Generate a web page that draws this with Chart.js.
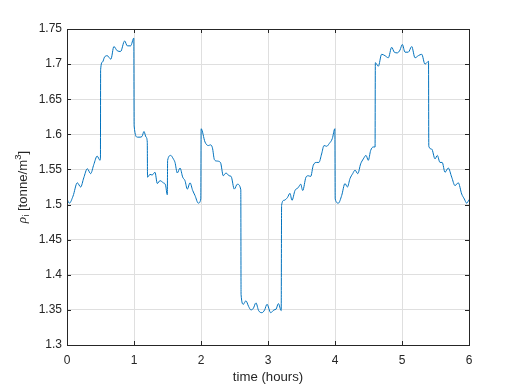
<!DOCTYPE html>
<html>
<head>
<meta charset="utf-8">
<script src="https://cdn.jsdelivr.net/npm/chart.js@4"></script>
<style>
  html, body { margin: 0; padding: 0; background: #fff; }
</style>
</head>
<body>
<canvas id="densityChart" width="518" height="388"></canvas>
<script>
// time (hours) and density readings, one row per segment
const timeHours = [
    0, 0.035, 0.09, 0.154, 0.204, 0.25, 0.303, 0.353, 0.40, 0.45, 0.493, 0.499,
    0.502, 0.53, 0.56, 0.60, 0.655, 0.70, 0.75, 0.80, 0.86, 0.90, 0.95, 0.997,
    1.002, 1.05, 1.09, 1.12, 1.149, 1.18, 1.198,
    1.202, 1.239, 1.27, 1.313, 1.348, 1.388, 1.437, 1.47, 1.497,
    1.502, 1.548, 1.587, 1.612, 1.646, 1.687, 1.727, 1.761, 1.796, 1.836, 1.876, 1.91, 1.96, 1.997,
    2.002, 2.06, 2.11, 2.14, 2.17, 2.20, 2.234, 2.29, 2.333, 2.373, 2.42, 2.45, 2.497, 2.542, 2.594,
    2.598, 2.632, 2.67, 2.71, 2.745, 2.78, 2.82, 2.86, 2.91, 2.95, 2.985, 3.04, 3.09, 3.12, 3.155, 3.197,
    3.203, 3.239, 3.29, 3.328, 3.358, 3.403, 3.45, 3.488, 3.518, 3.567, 3.60, 3.637, 3.676, 3.727, 3.76, 3.80, 3.836, 3.876, 3.915, 3.96, 3.998,
    4.003, 4.05, 4.10, 4.149, 4.185, 4.224, 4.264, 4.299, 4.34, 4.383, 4.423, 4.463, 4.497, 4.532, 4.572, 4.598,
    4.602, 4.647, 4.696, 4.746, 4.796, 4.846, 4.885, 4.93, 4.97, 5.005, 5.045, 5.094, 5.145, 5.194, 5.244, 5.294, 5.343, 5.396,
    5.400, 5.443, 5.493, 5.527, 5.567, 5.60, 5.642, 5.69, 5.742, 5.791, 5.84, 5.891, 5.93, 5.965, 6.0
];
const density = [
    1.508, 1.502, 1.512, 1.531, 1.525, 1.538, 1.551, 1.544, 1.557, 1.569, 1.563, 1.566,
    1.692, 1.703, 1.710, 1.712, 1.707, 1.725, 1.719, 1.718, 1.733, 1.726, 1.726, 1.737,
    1.612, 1.596, 1.596, 1.597, 1.604, 1.596, 1.589,
    1.539, 1.543, 1.542, 1.546, 1.530, 1.534, 1.531, 1.528, 1.514,
    1.563, 1.570, 1.565, 1.560, 1.545, 1.552, 1.539, 1.534, 1.522, 1.531, 1.520, 1.513, 1.502, 1.508,
    1.608, 1.589, 1.584, 1.585, 1.581, 1.564, 1.562, 1.560, 1.541, 1.545, 1.541, 1.540, 1.522, 1.529, 1.521,
    1.372, 1.358, 1.363, 1.355, 1.350, 1.352, 1.360, 1.349, 1.346, 1.350, 1.358, 1.346, 1.350, 1.351, 1.359, 1.349,
    1.499, 1.506, 1.510, 1.516, 1.506, 1.520, 1.524, 1.529, 1.520, 1.539, 1.541, 1.540, 1.556, 1.560, 1.560, 1.572, 1.584, 1.583, 1.587, 1.594, 1.608,
    1.508, 1.502, 1.513, 1.530, 1.525, 1.537, 1.544, 1.549, 1.544, 1.558, 1.565, 1.570, 1.563, 1.577, 1.582, 1.582,
    1.702, 1.697, 1.714, 1.712, 1.709, 1.724, 1.717, 1.716, 1.720, 1.728, 1.717, 1.717, 1.725, 1.709, 1.712, 1.714, 1.700, 1.704,
    1.583, 1.579, 1.565, 1.570, 1.560, 1.560, 1.546, 1.552, 1.539, 1.527, 1.531, 1.515, 1.508, 1.502, 1.507
];
const xTicks = [0, 1, 2, 3, 4, 5, 6];
const yTicks = [1.3, 1.35, 1.4, 1.45, 1.5, 1.55, 1.6, 1.65, 1.7, 1.75];
const xTitle = 'time (hours)';

const axisColor = '#262626';
const gridColor = '#dfdfdf';
const tickFont = { family: '"Liberation Sans", Arial, sans-serif', size: 12 };

// box, inward ticks and axis titles (matlab look)
const axesChrome = {
    id: 'axesChrome',
    afterDraw(chart) {
        const { ctx, chartArea: a, scales: { x, y } } = chart;
        const tl = 4;
        ctx.save();
        ctx.strokeStyle = axisColor;
        ctx.lineWidth = 1;
        ctx.beginPath();
        xTicks.forEach(v => {
            const px = Math.round(x.getPixelForValue(v)) + 0.5;
            ctx.moveTo(px, a.bottom); ctx.lineTo(px, a.bottom - tl);
            ctx.moveTo(px, a.top); ctx.lineTo(px, a.top + tl);
        });
        yTicks.forEach(v => {
            const py = Math.round(y.getPixelForValue(v)) + 0.5;
            ctx.moveTo(a.left, py); ctx.lineTo(a.left + tl, py);
            ctx.moveTo(a.right, py); ctx.lineTo(a.right - tl, py);
        });
        ctx.stroke();
        ctx.strokeRect(Math.round(a.left) + 0.5, Math.round(a.top) + 0.5,
            Math.round(a.right - a.left), Math.round(a.bottom - a.top));

        ctx.fillStyle = axisColor;
        ctx.font = '13.2px "Liberation Sans", Arial, sans-serif';
        ctx.textAlign = 'center';
        ctx.textBaseline = 'middle';
        ctx.fillText(xTitle, (a.left + a.right) / 2, 377);

        // y title: rho_i [tonne/m^3], rotated
        const parts = [
            { t: 'ρ', f: 'italic 13.2px "Liberation Serif", serif', dy: 0 },
            { t: 'i', f: '9.5px "Liberation Sans", Arial, sans-serif', dy: 3 },
            { t: ' [tonne/m', f: '13.2px "Liberation Sans", Arial, sans-serif', dy: 0 },
            { t: '3', f: '9.5px "Liberation Sans", Arial, sans-serif', dy: -5 },
            { t: ']', f: '13.2px "Liberation Sans", Arial, sans-serif', dy: 0 }
        ];
        let total = 0;
        parts.forEach(p => { ctx.font = p.f; p.w = ctx.measureText(p.t).width; total += p.w; });
        ctx.translate(23, (a.top + a.bottom) / 2);
        ctx.rotate(-Math.PI / 2);
        ctx.textAlign = 'left';
        let cx = -total / 2;
        parts.forEach(p => {
            ctx.font = p.f;
            ctx.fillText(p.t, cx, p.dy);
            cx += p.w;
        });
        ctx.restore();
    }
};

new Chart(document.getElementById('densityChart'), {
    type: 'line',
    data: {
        datasets: [{
            data: timeHours.map((t, i) => ({ x: t, y: density[i] })),
            borderColor: '#0072bd',
            borderWidth: 1,
            pointRadius: 0,
            cubicInterpolationMode: 'monotone',
            fill: false
        }]
    },
    options: {
        responsive: false,
        animation: false,
        devicePixelRatio: 1,
        layout: { padding: { left: 0, right: 49, top: 29, bottom: 0 } },
        plugins: { legend: { display: false }, tooltip: { enabled: false } },
        scales: {
            x: {
                type: 'linear',
                min: 0, max: 6,
                afterBuildTicks: s => { s.ticks = xTicks.map(v => ({ value: v })); },
                afterFit: s => { s.height = 43; },
                grid: { color: gridColor, drawTicks: false },
                border: { display: false },
                ticks: { color: axisColor, font: tickFont, padding: 8, maxRotation: 0 }
            },
            y: {
                min: 1.3, max: 1.75,
                afterBuildTicks: s => { s.ticks = yTicks.map(v => ({ value: v })); },
                afterFit: s => { s.width = 67; },
                grid: { color: gridColor, drawTicks: false },
                border: { display: false },
                ticks: {
                    color: axisColor, font: tickFont, padding: 5,
                    callback: v => String(Number(v.toFixed(2)))
                }
            }
        }
    },
    plugins: [axesChrome]
});
</script>
</body>
</html>
